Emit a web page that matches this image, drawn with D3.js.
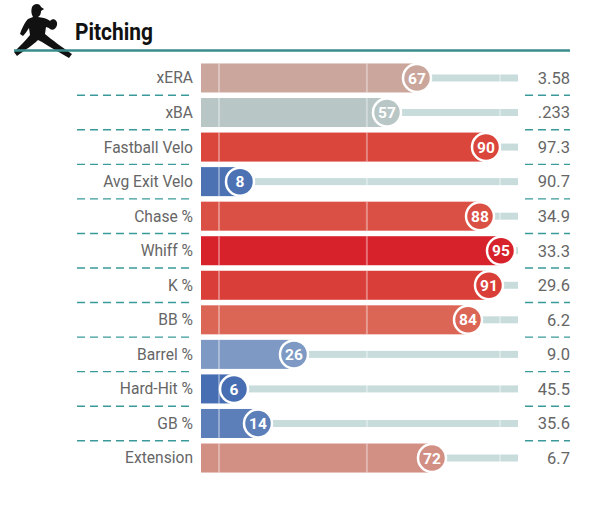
<!DOCTYPE html>
<html>
<head>
<meta charset="utf-8">
<script src="https://cdn.jsdelivr.net/npm/d3@7"></script>
<style>
  body { margin: 0; background: #fff; }
  svg { display: block; font-family: Roboto, "Noto Sans", sans-serif; }
</style>
</head>
<body>
<div id="chart"></div>
<script>
const metrics = ['xERA', 'xBA', 'Fastball Velo', 'Avg Exit Velo', 'Chase %', 'Whiff %',
  'K %', 'BB %', 'Barrel %', 'Hard-Hit %', 'GB %', 'Extension'];
const percentiles = [67, 57, 90, 8, 88, 95, 91, 84, 26, 6, 14, 72];
const statValues = ['3.58', '.233', '97.3', '90.7', '34.9', '33.3', '29.6', '6.2', '9.0', '45.5', '35.6', '6.7'];
const guides = [1, 50.3, 94.7]; // faint marks across the tracks

const w = 595;
const h = 507;

const svg = d3.select('#chart')
    .append('svg')
    .attr('width', w)
    .attr('height', h);

// pitcher silhouette, rough
svg.append('path')
    .attr('fill', '#111')
    .attr('d', 'M32,7 C34,3 40,3 41,7 L44,9 L41,11 C41,14 40,16 38,17 ' +
      'L44,18 C47,19 49,20 50,21 C53,17 58,20 57,25 C56,30 51,31 49,28 ' +
      'L46,27 L45,34 C52,40 62,47 72,54 L69,58 C60,53 50,47 42,42 ' +
      'L38,40 C33,45 25,50 17,56 L14,52 C20,46 26,40 30,35 ' +
      'L29,28 C27,31 25,34 23,36 L20,34 C22,28 25,22 28,19 ' +
      'L33,17 C31,14 31,10 32,7 Z');

// header
svg.append('text')
    .attr('x', 75)
    .attr('y', 40)
    .attr('font-size', 23)
    .attr('font-weight', 700)
    .attr('textLength', 78)
    .attr('lengthAdjust', 'spacingAndGlyphs')
    .attr('fill', '#111')
    .text('Pitching');

svg.append('line')
    .attr('x1', 14).attr('x2', 570)
    .attr('y1', 50.5).attr('y2', 50.5)
    .attr('stroke', '#3b8c8c')
    .attr('stroke-width', 2.6);

const x = d3.scaleLinear().domain([0, 100]).range([216, 516]);
const y = d3.scaleBand().domain(metrics).range([60.7, 475.3]).padding(0);
const barH = y.step() * 0.84;
const trackL = 201;
const trackR = 518;

const color = d3.scaleLinear()
    .domain([0, 26, 57, 67, 72, 84, 90, 95, 100])
    .range(['#3661ad', '#7e99c3', '#b9c6c6', '#caa69c', '#d28f84', '#dc6656',
      '#da453c', '#d8222b', '#d8212a']);

const rows = svg.selectAll('g.row')
    .data(metrics)
    .enter()
    .append('g')
    .attr('class', 'row')
    .attr('transform', (d) => 'translate(0,' + (y(d) + y.step() / 2) + ')');

// label
rows.append('text')
    .attr('x', 193)
    .attr('dy', '0.35em')
    .attr('text-anchor', 'end')
    .attr('font-size', 15.6)
    .attr('fill', '#666')
    .text((d) => d);

// track
rows.append('rect')
    .attr('x', trackL)
    .attr('y', -3.5)
    .attr('width', trackR - trackL)
    .attr('height', 7)
    .attr('fill', '#c8dcdc');

// bar
rows.append('rect')
    .attr('x', trackL)
    .attr('y', -barH / 2)
    .attr('width', (d, i) => x(percentiles[i]) - trackL)
    .attr('height', barH)
    .attr('fill', (d, i) => color(percentiles[i]));

// guide marks
rows.selectAll('line.guide')
    .data(guides)
    .enter()
    .append('line')
    .attr('class', 'guide')
    .attr('x1', (g) => x(g)).attr('x2', (g) => x(g))
    .attr('y1', -barH / 2).attr('y2', barH / 2)
    .attr('stroke', '#fff')
    .attr('stroke-opacity', 0.35)
    .attr('stroke-width', 2);

// percentile bubble
rows.append('circle')
    .attr('cx', (d, i) => x(percentiles[i]))
    .attr('r', 14)
    .attr('fill', (d, i) => color(percentiles[i]))
    .attr('stroke', '#fff')
    .attr('stroke-width', 2.5);

rows.append('text')
    .attr('x', (d, i) => x(percentiles[i]))
    .attr('dy', '0.36em')
    .attr('text-anchor', 'middle')
    .attr('font-size', 15.5)
    .attr('font-weight', 700)
    .attr('fill', '#fff')
    .text((d, i) => percentiles[i]);

// stat value
rows.append('text')
    .attr('x', 570)
    .attr('dy', '0.35em')
    .attr('text-anchor', 'end')
    .attr('font-size', 16.5)
    .attr('fill', '#666')
    .text((d, i) => statValues[i]);

// dashed separators
const seps = metrics.slice(1);
[[77, 193], [525, 570]].forEach(([x1, x2]) => {
  svg.selectAll(null)
      .data(seps)
      .enter()
      .append('line')
      .attr('x1', x1).attr('x2', x2)
      .attr('y1', (d) => y(d))
      .attr('y2', (d) => y(d))
      .attr('stroke', '#3a9a9a')
      .attr('stroke-width', 1.4)
      .attr('stroke-dasharray', '8,5');
});
</script>
</body>
</html>
